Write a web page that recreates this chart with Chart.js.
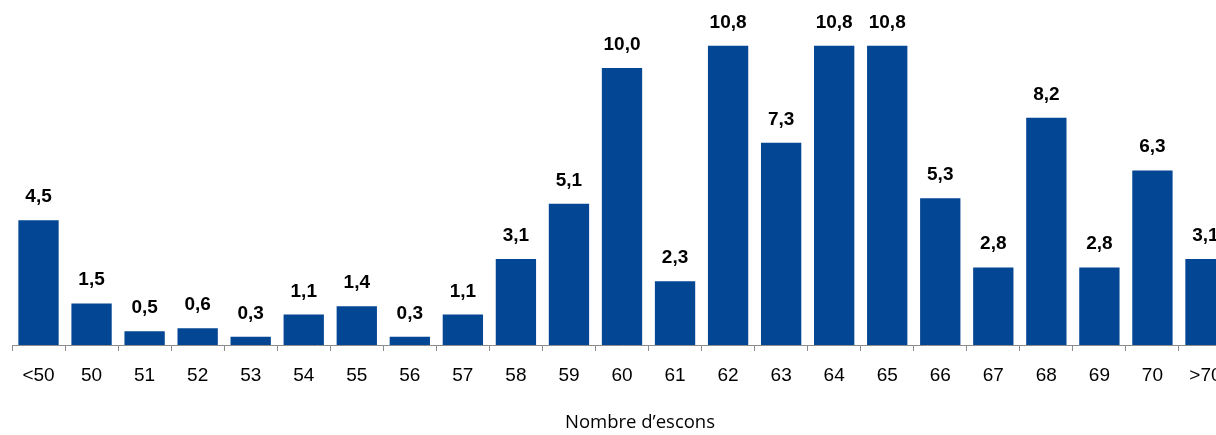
<!DOCTYPE html>
<html>
<head>
<meta charset="utf-8">
<script src="https://cdn.jsdelivr.net/npm/chart.js@4/dist/chart.umd.min.js"></script>
<style>
  html, body { margin: 0; padding: 0; background: #fff; overflow: hidden; }
  #wrap { width: 1236px; height: 435px; position: relative; }
</style>
</head>
<body>
<div id="wrap"><canvas id="seats-chart"></canvas></div>
<script>
// categories (nombre d'escons) and share of results (%)
const categories = ['<50', '50', '51', '52', '53', '54', '55', '56', '57', '58', '59', '60',
    '61', '62', '63', '64', '65', '66', '67', '68', '69', '70', '>70'];
const shares = [4.5, 1.5, 0.5, 0.6, 0.3, 1.1, 1.4, 0.3, 1.1, 3.1, 5.1, 10.0,
    2.3, 10.8, 7.3, 10.8, 10.8, 5.3, 2.8, 8.2, 2.8, 6.3, 3.1];
const axisTitle = 'Nombre d\u2019escons';

const barColor = '#034694';

// value above each bar (decimal comma) + the axis title, which sits
// a bit right of the plot centre in the original figure
const valueLabels = {
    id: 'valueLabels',
    afterDatasetsDraw: function (chart) {
        const ctx = chart.ctx;
        const area = chart.chartArea;
        const meta = chart.getDatasetMeta(0);
        ctx.save();
        ctx.font = 'bold 19px "Liberation Sans", Arial, sans-serif';
        ctx.fillStyle = '#000';
        ctx.textAlign = 'center';
        ctx.textBaseline = 'alphabetic';
        meta.data.forEach(function (bar, i) {
            const txt = shares[i].toFixed(1).replace('.', ',');
            ctx.fillText(txt, bar.x, bar.y - 18);
        });
        ctx.font = '18.5px "Open Sans", Calibri, sans-serif';
        ctx.fillText(axisTitle, (area.left + area.right) / 2 + 18, area.bottom + 83);
        ctx.restore();
    }
};

new Chart(document.getElementById('seats-chart'), {
    type: 'bar',
    data: {
        labels: categories,
        datasets: [{
            data: shares,
            backgroundColor: barColor,
            borderWidth: 0,
            barPercentage: 0.76,
            categoryPercentage: 1.0
        }]
    },
    options: {
        responsive: true,
        maintainAspectRatio: false,
        animation: false,
        layout: {
            padding: { left: 12, right: 4, top: 0, bottom: 34 }
        },
        scales: {
            x: {
                offset: true,
                border: { display: true, color: '#8c8c8c', width: 1 },
                grid: {
                    display: true,
                    drawOnChartArea: false,
                    drawTicks: true,
                    tickLength: 6,
                    color: '#8c8c8c',
                    offset: true
                },
                ticks: {
                    color: '#000',
                    padding: 13.6,
                    maxRotation: 0,
                    autoSkip: false,
                    font: { family: '"Liberation Sans", Arial, sans-serif', size: 19 }
                }
            },
            y: {
                display: false,
                min: 0,
                max: 12.45
            }
        },
        plugins: {
            legend: { display: false },
            tooltip: { enabled: false }
        }
    },
    plugins: [valueLabels]
});
</script>
</body>
</html>
